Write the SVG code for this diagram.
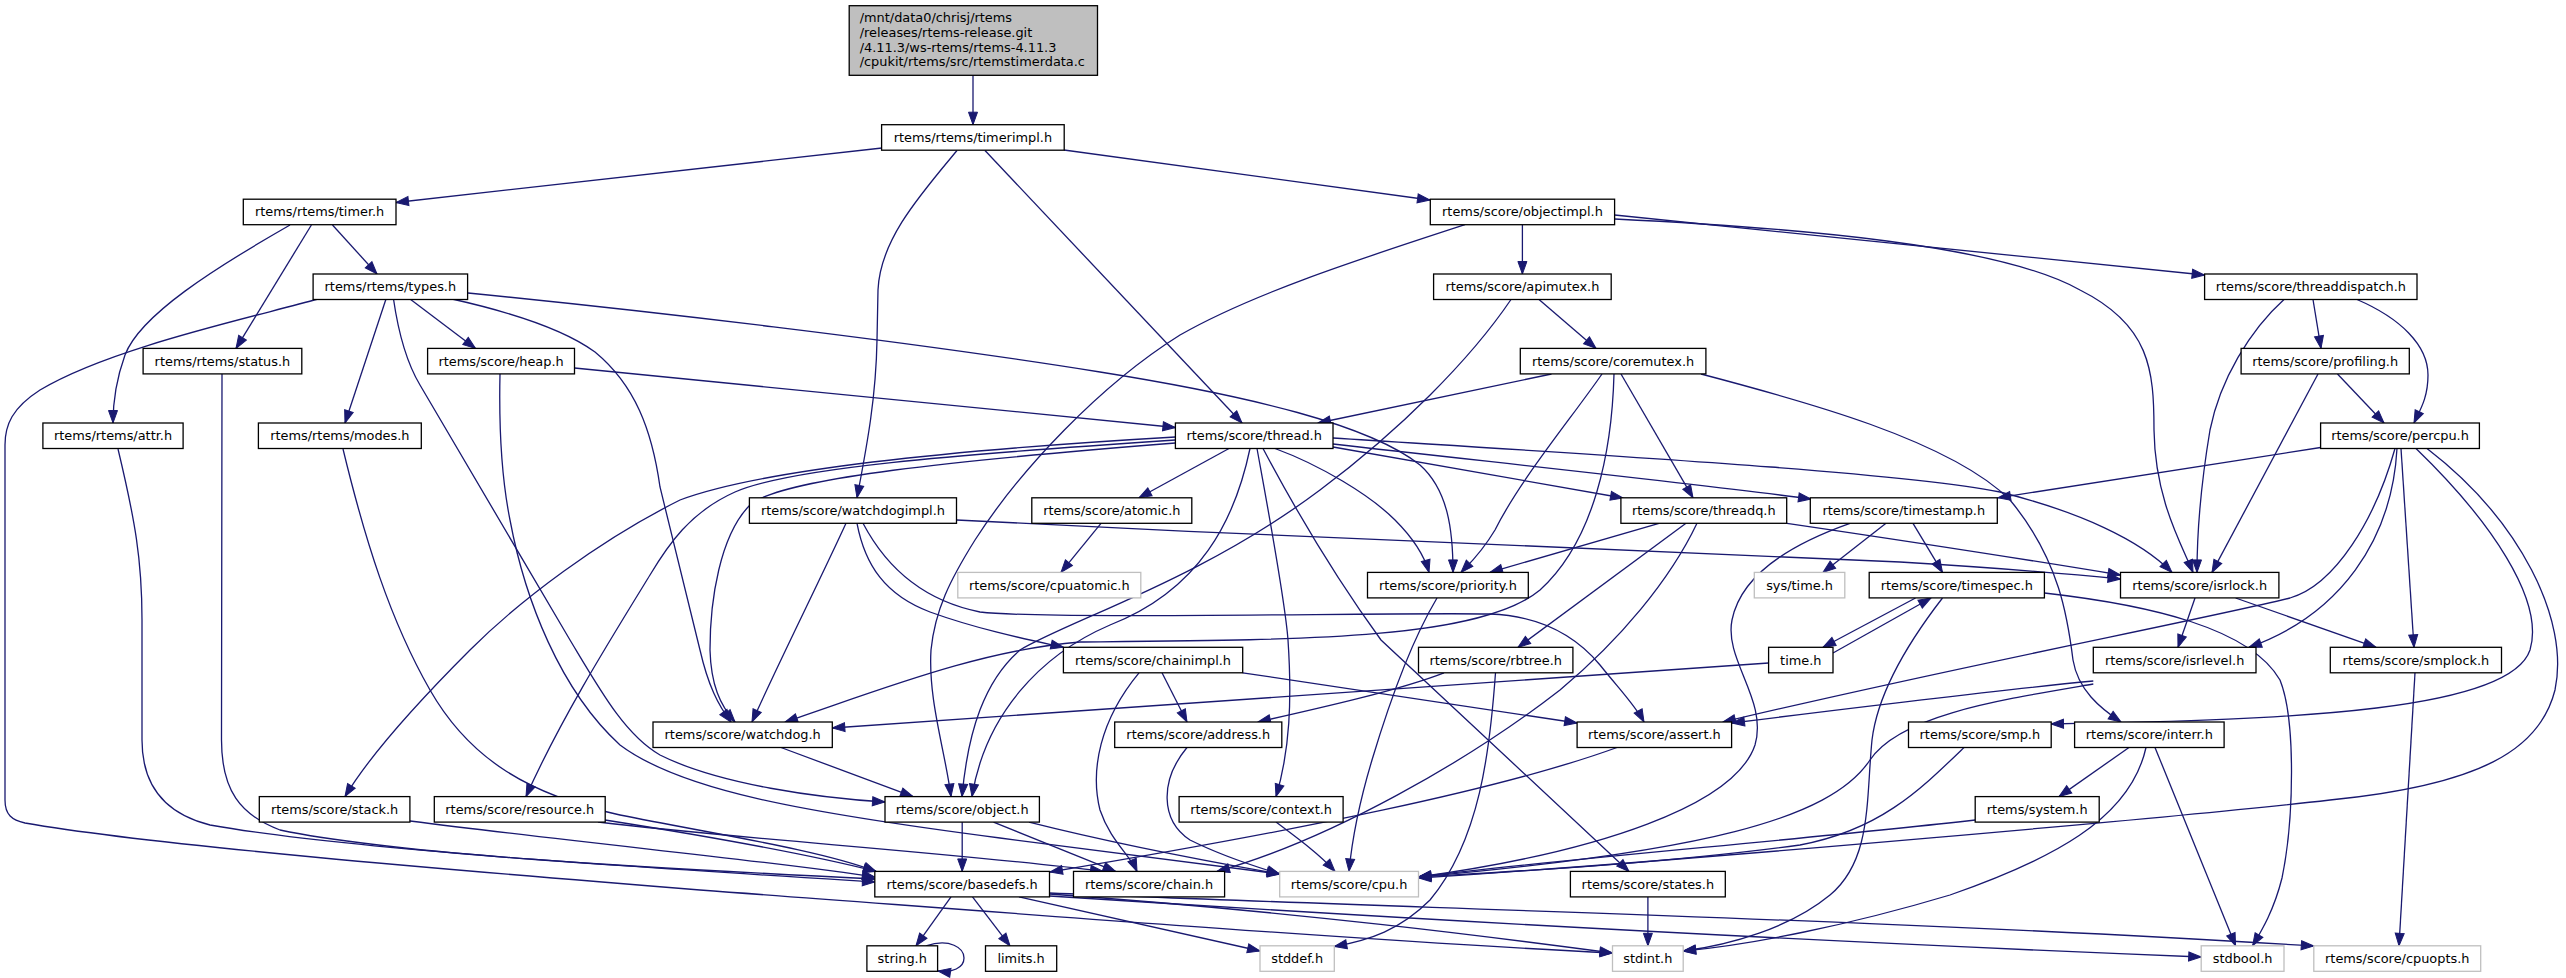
<svg xmlns="http://www.w3.org/2000/svg" width="2566" height="978" viewBox="0 0 2566 978">
<defs>
<style>
.nd rect{fill:#ffffff;stroke:#000000;stroke-width:1.3}
.gy rect{fill:#ffffff;stroke:#bfbfbf;stroke-width:1.3}
.top rect{fill:#bfbfbf;stroke:#000000;stroke-width:1.3}
text{font-family:"DejaVu Sans","Liberation Sans",sans-serif;font-size:12.9px;fill:#000000}
.c{text-anchor:middle}
#edges path{fill:none;stroke:#191970;stroke-width:1.3;marker-end:url(#ah)}
</style>
<marker id="ah" markerUnits="userSpaceOnUse" markerWidth="14" markerHeight="10" refX="12.5" refY="4.5" orient="auto" overflow="visible">
<path d="M0,0 L12.5,4.5 L0,9 Z" fill="#191970" stroke="#191970" stroke-width="1"/>
</marker>
</defs>
<rect x="0" y="0" width="2566" height="978" fill="#ffffff"/>
<g id="edges">
<path d="M973,75.3 L973,124.7"/>
<path d="M882,148 L396,202.5"/>
<path d="M1064,150 L1430,200"/>
<path d="M957,150.5 C920,195 880,240 878,290 L877,340 C876,400 866,450 857,497.8"/>
<path d="M985,150.5 L1242,423"/>
<path d="M332.5,225 L377,274"/>
<path d="M311.4,225 L236,348.4"/>
<path d="M290,225 C215,268 140,315 125,355 C116,380 113,400 113,423"/>
<path d="M318,299 C250,318 110,348 40,390 C12,408 5,425 5,445 L5,800 C5,815 12,820 25,823 C150,845 450,870 700,890 C1000,912 1350,940 1612.5,953"/>
<path d="M386,299 L345,423"/>
<path d="M393.5,299 C398,330 405,360 420,385 L570,640 C600,690 625,735 660,755 C720,785 820,798 885,802"/>
<path d="M410,299 L475.5,348.4"/>
<path d="M452,299 C510,312 565,330 595,352 C635,385 652,430 660,487 L700,650 C708,685 718,705 731,722"/>
<path d="M468,293 C640,310 900,340 1100,372 C1250,396 1370,425 1420,465 C1448,490 1453,530 1453,572.4"/>
<path d="M222,374 L221.5,740 C221.5,790 240,815 280,830 C400,855 650,868 875,879"/>
<path d="M118,449 C135,520 142,560 142,620 L142,740 C142,790 170,815 210,825 C350,850 650,868 875,882"/>
<path d="M343,449 C365,540 390,620 430,690 C470,760 530,795 620,815 C720,835 820,850 876,871.4"/>
<path d="M574.5,368 L1175.4,427.5"/>
<path d="M500,374 C499,420 500,470 510,520 C525,600 560,690 620,745 C680,790 800,812 1000,838 C1150,858 1230,868 1280,874"/>
<path d="M1522.4,224.7 L1522.4,274"/>
<path d="M1465,224.7 C1350,262 1250,295 1180,335 C1100,385 1020,470 975,540 C950,580 935,610 931,650 C928,700 945,750 951,796.6"/>
<path d="M1614.6,215 C1800,235 2000,255 2204.6,275"/>
<path d="M1614.6,219 C1800,228 2000,245 2080,290 C2150,325 2154,370 2154,430 C2155,500 2182,545 2193,572.4"/>
<path d="M1539,299.5 L1596,348.4"/>
<path d="M1511,299.5 C1470,360 1400,430 1320,490 C1200,580 1070,620 1020,650 C985,680 968,730 962,796.6"/>
<path d="M2313,299.5 L2321,348.4"/>
<path d="M2284,299.5 C2250,330 2220,380 2210,430 C2200,490 2197,530 2197,572.4"/>
<path d="M2357,299.5 C2400,318 2428,345 2428,375 C2428,398 2420,410 2414,423"/>
<path d="M1551.5,374 L1318,423"/>
<path d="M1602,374 C1570,420 1520,480 1495,530 C1480,555 1468,565 1461,572.4"/>
<path d="M1614,374 C1612,450 1595,540 1540,590 C1480,640 1300,640 1080,642 C980,650 880,690 785,722"/>
<path d="M1621,374 L1693,497.8"/>
<path d="M1701,374 C1800,400 1950,440 2010,500 C2060,560 2068,620 2073,660 C2078,690 2100,708 2121,722"/>
<path d="M2318,374 L2212,572.4"/>
<path d="M2337.5,374 L2384,423"/>
<path d="M1175.4,437 C950,450 760,470 680,500 C600,540 520,600 470,650 C420,700 370,755 345,796.6"/>
<path d="M1175.4,440 C950,455 790,468 735,492 C690,512 668,545 650,575 C610,640 560,720 526,796.6"/>
<path d="M1175.4,443 C960,460 780,478 750,505 C720,535 710,600 710,650 C711,685 720,705 735,722"/>
<path d="M1229,448.5 L1139,497.8"/>
<path d="M1250,448.5 C1235,520 1200,590 1110,625 C1040,655 985,715 972,796.6"/>
<path d="M1257,448.5 C1270,520 1285,600 1288,640 C1292,700 1290,750 1276,796.6"/>
<path d="M1263,448.5 C1285,490 1330,570 1381,640 L1629,871.4"/>
<path d="M1275,448.5 C1320,465 1370,495 1395,520 C1415,540 1425,558 1429,572.4"/>
<path d="M1333,447 C1450,468 1550,485 1623,498"/>
<path d="M1333,444 C1500,463 1700,484 1811,499"/>
<path d="M1333,438 C1600,455 1900,472 2000,492 C2080,512 2140,540 2172,572.4"/>
<path d="M2320.6,447.5 L1998,497.8"/>
<path d="M2395,448.5 C2375,520 2335,585 2290,598 C2200,620 1940,670 1723,722"/>
<path d="M2397,448.5 C2392,540 2340,615 2249,647.3"/>
<path d="M2401,448.5 L2414,647.3"/>
<path d="M2416,448.5 C2490,520 2545,600 2530,650 C2510,710 2300,720 2051,724"/>
<path d="M2427,448.5 C2520,520 2570,620 2555,690 C2540,750 2480,785 2330,800 C2200,815 1700,860 1418.5,878"/>
<path d="M846,523.3 C820,580 780,660 752,722"/>
<path d="M857,523.3 C865,565 885,595 930,612 C980,630 1030,640 1063.4,647.3"/>
<path d="M863,523.3 C885,565 920,600 980,612 C1050,620 1400,612 1490,614 C1540,616 1575,635 1600,665 C1620,690 1635,705 1644,722"/>
<path d="M956.5,520 C1300,538 1700,552 1900,562 C2000,568 2070,574 2120.5,579"/>
<path d="M1101,523.3 L1061,572.4"/>
<path d="M1659,523.3 L1490,572.4"/>
<path d="M1686,523.3 L1518,647.3"/>
<path d="M1697,523.3 C1670,580 1620,640 1560,690 C1470,760 1330,840 1217,871.4"/>
<path d="M1787,523.3 C1900,540 2000,555 2120.5,575"/>
<path d="M1886,523.3 L1823,572.4"/>
<path d="M1913,523.3 L1942.5,572.4"/>
<path d="M1850,523.3 C1780,548 1740,580 1732,620 C1724,660 1768,700 1755,745 C1735,805 1600,852 1418.5,877"/>
<path d="M1437,598 C1412,640 1390,700 1372,760 C1360,800 1352,840 1349,871.4"/>
<path d="M1915.5,598 L1823,647.3"/>
<path d="M1833,653 L1931,598"/>
<path d="M2044.4,593 C2150,605 2250,628 2280,680 C2296,720 2294,820 2282,878 C2274,910 2262,930 2252.6,945.8"/>
<path d="M1942.5,598 C1910,640 1878,690 1872,740 C1866,800 1872,860 1830,895 C1790,928 1730,945 1683.2,951"/>
<path d="M1768.6,663 L832.3,728"/>
<path d="M2195,598 L2178,647.3"/>
<path d="M2235.6,598 L2376,647.3"/>
<path d="M1162,672.8 L1187,722"/>
<path d="M1139,672.8 C1100,720 1090,770 1100,810 C1110,840 1130,855 1137,871.4"/>
<path d="M1242.7,672.8 L1577.1,723"/>
<path d="M1444,672.8 C1400,690 1320,708 1258,722"/>
<path d="M1495.5,672.8 C1490,750 1480,840 1430,900 C1400,930 1370,940 1334.3,946.5"/>
<path d="M2093.3,681 C2000,690 1900,702 1732,723"/>
<path d="M2093.3,684 C2000,700 1900,715 1870,760 C1830,820 1700,852 1418.5,877"/>
<path d="M2415,672.8 L2399,945.8"/>
<path d="M781,747.5 L913,796.6"/>
<path d="M1187,747.5 C1160,780 1160,820 1190,840 C1220,855 1250,865 1279.7,874"/>
<path d="M1617,747.5 C1500,790 1300,830 1050,872"/>
<path d="M1964,747.5 C1920,790 1880,830 1800,845 C1650,865 1500,872 1418.5,877"/>
<path d="M2129,747.5 L2059,796.6"/>
<path d="M2146,747.5 C2130,820 2050,860 1950,895 C1850,925 1750,945 1683.2,951"/>
<path d="M2155,747.5 L2235.6,945.8"/>
<path d="M410,821 C600,845 780,862 874.8,877"/>
<path d="M605,820 C700,835 800,852 876,871.4"/>
<path d="M598,822 C750,840 950,852 1103,871.4"/>
<path d="M962.2,822.1 L962.2,871.4"/>
<path d="M993.5,822.1 L1115.6,871.4"/>
<path d="M1029,822.1 C1100,840 1200,860 1279.7,874"/>
<path d="M1276,822.1 C1300,840 1320,855 1335,871.4"/>
<path d="M1975.2,820 C1800,840 1550,860 1418.5,877"/>
<path d="M951,896.9 L916,945.8"/>
<path d="M972.5,896.9 L1010,945.8"/>
<path d="M1019,896.9 L1260,951"/>
<path d="M1049.5,894 C1300,912 1500,938 1612.5,953"/>
<path d="M1049.5,896 C1500,925 1900,945 2201.2,957"/>
<path d="M1049.5,893 C1400,908 1900,920 2313.8,946"/>
<path d="M1647.9,896.9 L1647.9,945.8"/>
<path d="M926,945.8 C950,938 964,948 964,958 C964,968 952,973 938,971"/>
</g>
<g id="n_top" class="top"><rect x="849.2" y="5.7" width="248.3" height="69.6"/>
<text x="859.7" y="22">/mnt/data0/chrisj/rtems</text>
<text x="859.7" y="36.8">/releases/rtems-release.git</text>
<text x="859.7" y="51.6">/4.11.3/ws-rtems/rtems-4.11.3</text>
<text x="859.7" y="66.4">/cpukit/rtems/src/rtemstimerdata.c</text></g>
<g id="n_timerimpl" class="nd"><rect x="881.6" y="124.7" width="182.6" height="25.5"/><text class="c" x="972.9" y="141.9">rtems/rtems/timerimpl.h</text></g>
<g id="n_timer" class="nd"><rect x="243.3" y="199.2" width="152.7" height="25.5"/><text class="c" x="319.65" y="216.4">rtems/rtems/timer.h</text></g>
<g id="n_objectimpl" class="nd"><rect x="1430.3" y="199.2" width="184.3" height="25.5"/><text class="c" x="1522.45" y="216.4">rtems/score/objectimpl.h</text></g>
<g id="n_types" class="nd"><rect x="313.1" y="274" width="154.5" height="25.5"/><text class="c" x="390.35" y="291.2">rtems/rtems/types.h</text></g>
<g id="n_apimutex" class="nd"><rect x="1433.6" y="274" width="177.6" height="25.5"/><text class="c" x="1522.4" y="291.2">rtems/score/apimutex.h</text></g>
<g id="n_threaddispatch" class="nd"><rect x="2204.6" y="274" width="212.4" height="25.5"/><text class="c" x="2310.8" y="291.2">rtems/score/threaddispatch.h</text></g>
<g id="n_status" class="nd"><rect x="143.1" y="348.4" width="158.7" height="25.5"/><text class="c" x="222.45" y="365.6">rtems/rtems/status.h</text></g>
<g id="n_heap" class="nd"><rect x="427.6" y="348.4" width="146.9" height="25.5"/><text class="c" x="501.05" y="365.6">rtems/score/heap.h</text></g>
<g id="n_coremutex" class="nd"><rect x="1520.3" y="348.4" width="185.6" height="25.5"/><text class="c" x="1613.1" y="365.6">rtems/score/coremutex.h</text></g>
<g id="n_profiling" class="nd"><rect x="2241.1" y="348.4" width="168.2" height="25.5"/><text class="c" x="2325.2" y="365.6">rtems/score/profiling.h</text></g>
<g id="n_attr" class="nd"><rect x="42.9" y="423" width="140.2" height="25.5"/><text class="c" x="113" y="440.2">rtems/rtems/attr.h</text></g>
<g id="n_modes" class="nd"><rect x="258.4" y="423" width="162.9" height="25.5"/><text class="c" x="339.85" y="440.2">rtems/rtems/modes.h</text></g>
<g id="n_thread" class="nd"><rect x="1175.4" y="423" width="157.6" height="25.5"/><text class="c" x="1254.2" y="440.2">rtems/score/thread.h</text></g>
<g id="n_percpu" class="nd"><rect x="2320.6" y="423" width="158.8" height="25.5"/><text class="c" x="2400" y="440.2">rtems/score/percpu.h</text></g>
<g id="n_watchdogimpl" class="nd"><rect x="749.4" y="497.8" width="207.1" height="25.5"/><text class="c" x="852.95" y="515">rtems/score/watchdogimpl.h</text></g>
<g id="n_atomic" class="nd"><rect x="1031.8" y="497.8" width="160" height="25.5"/><text class="c" x="1111.8" y="515">rtems/score/atomic.h</text></g>
<g id="n_threadq" class="nd"><rect x="1620.9" y="497.8" width="165.8" height="25.5"/><text class="c" x="1703.8" y="515">rtems/score/threadq.h</text></g>
<g id="n_timestamp" class="nd"><rect x="1810.3" y="497.8" width="187" height="25.5"/><text class="c" x="1903.8" y="515">rtems/score/timestamp.h</text></g>
<g id="n_cpuatomic" class="gy"><rect x="957.8" y="572.4" width="183" height="25.5"/><text class="c" x="1049.3" y="589.6">rtems/score/cpuatomic.h</text></g>
<g id="n_priority" class="nd"><rect x="1367.5" y="572.4" width="160.8" height="25.5"/><text class="c" x="1447.9" y="589.6">rtems/score/priority.h</text></g>
<g id="n_systime" class="gy"><rect x="1754.3" y="572.4" width="90.5" height="25.5"/><text class="c" x="1799.55" y="589.6">sys/time.h</text></g>
<g id="n_timespec" class="nd"><rect x="1869.2" y="572.4" width="175.2" height="25.5"/><text class="c" x="1956.8" y="589.6">rtems/score/timespec.h</text></g>
<g id="n_isrlock" class="nd"><rect x="2120.5" y="572.4" width="158.4" height="25.5"/><text class="c" x="2199.7" y="589.6">rtems/score/isrlock.h</text></g>
<g id="n_chainimpl" class="nd"><rect x="1063.4" y="647.3" width="179.3" height="25.5"/><text class="c" x="1153.05" y="664.5">rtems/score/chainimpl.h</text></g>
<g id="n_rbtree" class="nd"><rect x="1418.5" y="647.3" width="154.4" height="25.5"/><text class="c" x="1495.7" y="664.5">rtems/score/rbtree.h</text></g>
<g id="n_time" class="nd"><rect x="1768.6" y="647.3" width="64.4" height="25.5"/><text class="c" x="1800.8" y="664.5">time.h</text></g>
<g id="n_isrlevel" class="nd"><rect x="2093.3" y="647.3" width="162.7" height="25.5"/><text class="c" x="2174.65" y="664.5">rtems/score/isrlevel.h</text></g>
<g id="n_smplock" class="nd"><rect x="2330.3" y="647.3" width="171.2" height="25.5"/><text class="c" x="2415.9" y="664.5">rtems/score/smplock.h</text></g>
<g id="n_watchdog" class="nd"><rect x="653" y="722" width="179.3" height="25.5"/><text class="c" x="742.65" y="739.2">rtems/score/watchdog.h</text></g>
<g id="n_address" class="nd"><rect x="1114.7" y="722" width="167.1" height="25.5"/><text class="c" x="1198.25" y="739.2">rtems/score/address.h</text></g>
<g id="n_assert" class="nd"><rect x="1577.1" y="722" width="154.5" height="25.5"/><text class="c" x="1654.35" y="739.2">rtems/score/assert.h</text></g>
<g id="n_smp" class="nd"><rect x="1908.5" y="722" width="142.7" height="25.5"/><text class="c" x="1979.85" y="739.2">rtems/score/smp.h</text></g>
<g id="n_interr" class="nd"><rect x="2074.6" y="722" width="149.5" height="25.5"/><text class="c" x="2149.35" y="739.2">rtems/score/interr.h</text></g>
<g id="n_stack" class="nd"><rect x="259.3" y="796.6" width="150.6" height="25.5"/><text class="c" x="334.6" y="813.8">rtems/score/stack.h</text></g>
<g id="n_resource" class="nd"><rect x="434.3" y="796.6" width="170.9" height="25.5"/><text class="c" x="519.75" y="813.8">rtems/score/resource.h</text></g>
<g id="n_object" class="nd"><rect x="885" y="796.6" width="154.4" height="25.5"/><text class="c" x="962.2" y="813.8">rtems/score/object.h</text></g>
<g id="n_context" class="nd"><rect x="1179.1" y="796.6" width="164" height="25.5"/><text class="c" x="1261.1" y="813.8">rtems/score/context.h</text></g>
<g id="n_system" class="nd"><rect x="1975.2" y="796.6" width="124" height="25.5"/><text class="c" x="2037.2" y="813.8">rtems/system.h</text></g>
<g id="n_basedefs" class="nd"><rect x="874.8" y="871.4" width="174.7" height="25.5"/><text class="c" x="962.15" y="888.6">rtems/score/basedefs.h</text></g>
<g id="n_chain" class="nd"><rect x="1073.5" y="871.4" width="151.1" height="25.5"/><text class="c" x="1149.05" y="888.6">rtems/score/chain.h</text></g>
<g id="n_cpu" class="gy"><rect x="1279.7" y="871.4" width="138.8" height="25.5"/><text class="c" x="1349.1" y="888.6">rtems/score/cpu.h</text></g>
<g id="n_states" class="nd"><rect x="1570.4" y="871.4" width="154.9" height="25.5"/><text class="c" x="1647.85" y="888.6">rtems/score/states.h</text></g>
<g id="n_string" class="nd"><rect x="866.9" y="945.8" width="70.7" height="25.5"/><text class="c" x="902.25" y="963">string.h</text></g>
<g id="n_limits" class="nd"><rect x="985.5" y="945.8" width="71.2" height="25.5"/><text class="c" x="1021.1" y="963">limits.h</text></g>
<g id="n_stddef" class="gy"><rect x="1260" y="945.8" width="74.3" height="25.5"/><text class="c" x="1297.15" y="963">stddef.h</text></g>
<g id="n_stdint" class="gy"><rect x="1612.5" y="945.8" width="70.7" height="25.5"/><text class="c" x="1647.85" y="963">stdint.h</text></g>
<g id="n_stdbool" class="gy"><rect x="2201.2" y="945.8" width="82.8" height="25.5"/><text class="c" x="2242.6" y="963">stdbool.h</text></g>
<g id="n_cpuopts" class="gy"><rect x="2313.8" y="945.8" width="166.9" height="25.5"/><text class="c" x="2397.25" y="963">rtems/score/cpuopts.h</text></g>
</svg>
